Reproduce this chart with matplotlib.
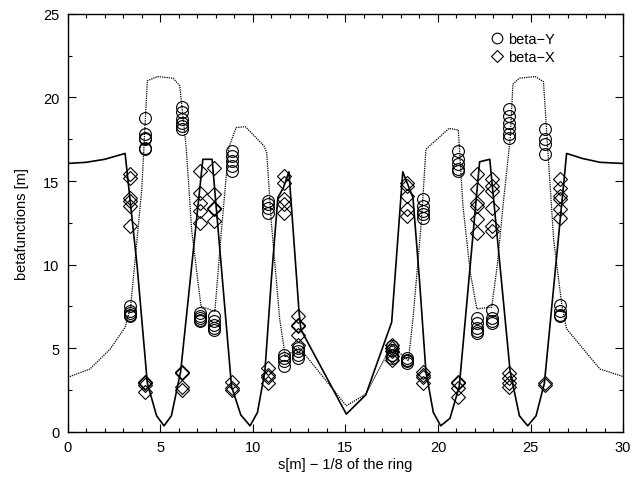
import matplotlib
matplotlib.use('Agg')
import matplotlib.pyplot as plt
from matplotlib.ticker import MultipleLocator

plt.rcParams['font.family'] = ['Liberation Sans', 'DejaVu Sans']

# model beta-X (solid line)
s_bx = [0, 1.0, 2.0, 3.1, 3.75, 4.3, 4.8, 5.2, 5.6, 6.1, 7.3, 7.8, 8.85, 9.35,
        9.85, 10.25, 10.65, 11.0, 11.35, 11.65, 11.95, 12.5, 12.6, 15.05, 16.1,
        17.5, 18.1, 18.65, 19.0, 19.35, 19.75, 20.15, 20.65, 21.15, 22.25, 22.8,
        23.9, 24.4, 24.85, 25.3, 25.75, 26.95, 27.8, 28.75, 30.0]
beta_x = [16.05, 16.12, 16.3, 16.65, 9.9, 2.9, 0.95, 0.35, 0.95, 3.6, 16.3, 16.3,
          2.7, 1.0, 0.35, 1.15, 3.6, 9.1, 14.0, 14.6, 15.55, 7.1, 6.1, 1.05, 2.2,
          6.55, 15.55, 14.0, 9.1, 3.6, 1.15, 0.35, 0.8, 2.7, 16.15, 16.3,
          3.6, 0.95, 0.35, 0.95, 2.9, 16.65, 16.35, 16.12, 16.05]

# model beta-Y (dotted line)
s_by = [0, 1.2, 2.3, 3.1, 3.4, 4.0, 4.3, 4.85, 5.7, 6.05, 6.4, 6.7, 7.2, 7.95,
        8.3, 8.7, 9.1, 9.6, 10.6, 10.75, 11.0, 11.45, 11.75, 12.5, 15.05, 16.1,
        17.5, 18.4, 18.65, 19.1, 19.35, 20.6, 21.1, 21.35, 21.75, 22.1, 22.9,
        23.2, 23.55, 23.9, 24.05, 24.4, 25.25, 25.7, 25.95, 26.25, 26.7, 26.95,
        28.75, 30.0]
beta_y = [3.25, 3.75, 4.95, 6.25, 7.5, 14.5, 21.0, 21.25, 21.15, 20.7, 17.0,
          12.0, 7.5, 7.2, 12.0, 17.0, 18.2, 18.25, 17.1, 16.7, 12.5, 6.75, 4.5,
          5.05, 1.55, 2.25, 5.15, 4.25, 6.75, 12.5, 16.9, 18.15, 18.05, 13.5,
          9.5, 7.35, 7.45, 9.9, 13.9, 17.5, 20.8, 21.15, 21.25, 20.95, 16.6,
          11.5, 7.5, 6.15, 3.75, 3.3]

# measured values per monitor position
monitors = [3.35, 4.2, 6.15, 7.15, 7.9, 8.85, 10.8, 11.7, 12.45,
            17.5, 18.35, 19.2, 21.1, 22.1, 22.9, 23.85, 25.8, 26.6]
meas_y = [
    [7.5, 7.2, 7.0, 6.9, 7.1],
    [18.8, 17.8, 17.6, 17.5, 17.0, 16.9],
    [19.4, 19.1, 18.7, 18.5, 18.3, 18.1],
    [7.1, 6.9, 6.8, 6.7, 6.6],
    [6.9, 6.6, 6.4, 6.2, 6.1],
    [16.8, 16.5, 16.2, 15.9, 15.6],
    [13.8, 13.6, 13.4, 13.1],
    [4.6, 4.4, 4.2, 3.9],
    [5.0, 4.8, 4.6, 4.4],
    [5.1, 4.9, 4.6, 4.4],
    [4.4, 4.3, 4.2, 4.1],
    [13.9, 13.5, 13.2, 13.0, 12.8],
    [16.8, 16.3, 16.0, 15.7, 15.6],
    [6.8, 6.5, 6.2, 6.0, 5.9],
    [7.3, 6.8, 6.6, 6.5],
    [19.3, 18.9, 18.5, 18.2, 17.8, 17.6],
    [18.1, 17.5, 17.2, 16.6],
    [7.6, 7.2, 7.0, 6.9],
]
meas_x = [
    [15.4, 15.2, 14.0, 13.8, 13.5, 12.3],
    [3.0, 2.9, 2.8, 2.4],
    [3.6, 3.5, 2.7, 2.5],
    [15.6, 14.3, 13.7, 13.2, 12.5],
    [15.8, 14.2, 13.4, 13.3, 12.6],
    [3.0, 2.6, 2.5],
    [3.8, 3.4, 3.3, 2.9],
    [15.3, 14.9, 13.9, 13.6, 13.1],
    [6.9, 6.4, 6.3, 5.8, 5.2],
    [5.2, 5.0, 4.8, 4.5, 4.3],
    [14.9, 14.7, 14.1, 13.3, 12.9],
    [3.6, 3.4, 3.3, 2.9],
    [3.0, 2.9, 2.6, 2.1],
    [15.4, 14.5, 13.7, 13.5, 12.7, 11.9],
    [15.1, 14.7, 14.4, 13.4, 12.3, 12.0],
    [3.5, 3.2, 2.9, 2.7],
    [2.9, 2.8],
    [15.1, 14.6, 14.1, 13.9, 13.3, 12.8],
]

fig = plt.figure(figsize=(6.42, 4.81), dpi=100)
ax = fig.add_axes([0.1055, 0.1005, 0.865, 0.8685])

ax.plot(s_bx, beta_x, color='black', linewidth=1.2)
ax.plot(s_by, beta_y, color='black', linewidth=0.9, linestyle=(0, (1, 0.8)))

py_s = [s for s, vals in zip(monitors, meas_y) for v in vals]
py_v = [v for vals in meas_y for v in vals]
px_s = [s for s, vals in zip(monitors, meas_x) for v in vals]
px_v = [v for vals in meas_x for v in vals]

ax.plot(py_s, py_v, linestyle='none', marker='o', markersize=8.5,
        markerfacecolor='none', markeredgecolor='black', markeredgewidth=0.8,
        label='beta\u2212Y')
ax.plot(px_s, px_v, linestyle='none', marker='D', markersize=7,
        markerfacecolor='none', markeredgecolor='black', markeredgewidth=0.8,
        label='beta\u2212X')

ax.set_xlim(0, 30)
ax.set_ylim(0, 25)
ax.xaxis.set_major_locator(MultipleLocator(5))
ax.xaxis.set_minor_locator(MultipleLocator(1))
ax.yaxis.set_major_locator(MultipleLocator(5))
ax.yaxis.set_minor_locator(MultipleLocator(2.5))
ax.tick_params(which='both', direction='in', top=True, right=True,
               labelsize=10.5, width=0.8)
ax.tick_params(which='major', length=6, pad=6)
ax.tick_params(which='minor', length=3)
for sp in ax.spines.values():
    sp.set_linewidth(1.0)

ax.set_xlabel('s[m] \u2212 1/8 of the ring', fontsize=10.5, labelpad=2)
ax.set_ylabel('betafunctions [m]', fontsize=10.5, labelpad=10)

ax.legend(loc='upper right', bbox_to_anchor=(0.895, 0.98), frameon=False,
          fontsize=10.5, handlelength=0.6, handletextpad=0.45,
          labelspacing=0.25, borderaxespad=0.3, markerscale=0.9)

plt.savefig('out.png', dpi=100)
